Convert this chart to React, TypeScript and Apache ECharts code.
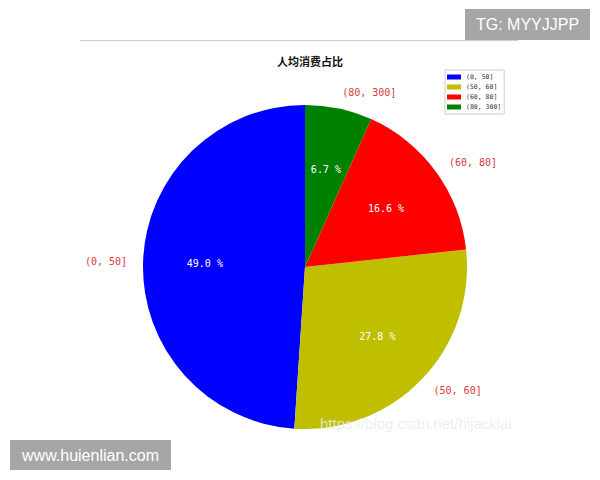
import { useEffect, useRef } from "react";
import * as echarts from "echarts";

// spend-per-person share (percent)
const categories = ["(0, 50]", "(50, 60]", "(60, 80]", "(80, 300]"];
const shares = [49.0, 27.8, 16.6, 6.7];
const colors = ["#0000ff", "#bfbf00", "#ff0000", "#008000"];

const title = "人均消费占比";

export default function App() {
  const chartRef = useRef<HTMLDivElement>(null);

  useEffect(() => {
    document.body.style.margin = "0";
    if (!chartRef.current) return;
    const chart = echarts.init(chartRef.current, undefined, { renderer: "svg" });

    const R = 162;
    const center = [305, 267];
    const data = categories.map((name, i) => ({
      name,
      value: shares[i],
      itemStyle: { color: colors[i] },
    }));

    const option: echarts.EChartsOption = {
      animation: false,
      backgroundColor: "#ffffff",
      title: {
        text: title,
        left: 272,
        top: 50,
        textStyle: {
          fontSize: 11,
          fontWeight: "bold",
          color: "#111",
          fontFamily: "Noto Sans CJK SC",
        },
      },
      legend: {
        orient: "vertical",
        left: 445,
        top: 70,
        icon: "rect",
        itemWidth: 14,
        itemHeight: 5,
        itemGap: 2,
        itemTextGap: 6,
        padding: [3, 3, 3, 2],
        borderColor: "#cccccc",
        borderWidth: 1,
        data: categories,
        textStyle: {
          fontSize: 6.5,
          lineHeight: 8,
          color: "#333",
          fontFamily: "DejaVu Sans Mono",
        },
      },
      graphic: [
        {
          type: "line",
          shape: { x1: 80, y1: 40.5, x2: 518, y2: 40.5 },
          style: { stroke: "#cfcfcf", lineWidth: 1 },
        },
        {
          type: "text",
          x: 320,
          y: 423,
          z: 100,
          style: {
            text: "https://blog.csdn.net/hijacklai",
            fill: "rgba(235,235,235,0.85)",
            font: "15px 'Liberation Sans'",
            verticalAlign: "middle",
          },
        },
        {
          type: "group",
          x: 465,
          y: 9,
          z: 100,
          children: [
            { type: "rect", shape: { x: 0, y: 0, width: 125, height: 31 }, style: { fill: "#a6a6a6" } },
            {
              type: "text",
              x: 62.5,
              y: 15.5,
              style: {
                text: "TG: MYYJJPP",
                fill: "#ffffff",
                font: "16px 'Liberation Sans'",
                align: "center",
                verticalAlign: "middle",
              },
            },
          ],
        },
        {
          type: "group",
          x: 10,
          y: 440,
          z: 100,
          children: [
            { type: "rect", shape: { x: 0, y: 0, width: 161, height: 30 }, style: { fill: "#a6a6a6" } },
            {
              type: "text",
              x: 80.5,
              y: 15,
              style: {
                text: "www.huienlian.com",
                fill: "#ffffff",
                font: "16px 'Liberation Sans'",
                align: "center",
                verticalAlign: "middle",
              },
            },
          ],
        },
      ],
      series: [
        {
          type: "pie",
          radius: R,
          center,
          startAngle: 90,
          clockwise: false,
          avoidLabelOverlap: false,
          silent: true,
          data,
          label: {
            position: "outside",
            distanceToLabelLine: 0,
            color: "#d83a3a",
            fontSize: 10,
            fontFamily: "DejaVu Sans Mono",
            formatter: "{b}",
          },
          labelLine: { show: false, length: 16, length2: 0 },
        },
        {
          // transparent overlay only to place the percentages at 0.6 r
          type: "pie",
          radius: [0, R * 1.2],
          center,
          startAngle: 90,
          clockwise: false,
          avoidLabelOverlap: false,
          silent: true,
          legendHoverLink: false,
          data: categories.map((name, i) => ({
            name,
            value: shares[i],
            itemStyle: { color: "rgba(0,0,0,0)" },
          })),
          label: {
            position: "inside",
            color: "#ffffff",
            fontSize: 10,
            fontFamily: "DejaVu Sans Mono",
            formatter: (p: any) => `${Number(p.value).toFixed(1)} %`,
          },
          labelLine: { show: false },
        },
      ],
    };

    chart.setOption(option);
    return () => {
      chart.dispose();
    };
  }, []);

  return <div ref={chartRef} style={{ width: 600, height: 480 }} />;
}
